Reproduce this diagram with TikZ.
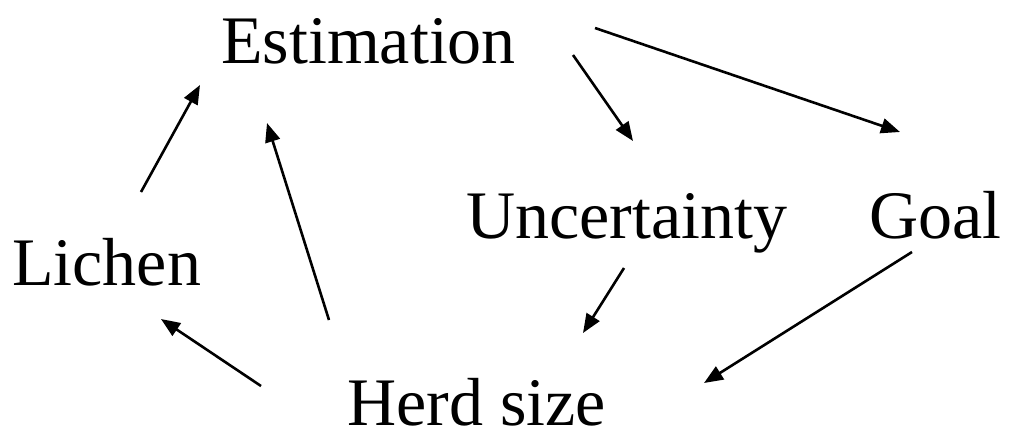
\documentclass[tikz,border=0pt]{standalone}
\usepackage{fontspec}
\setmainfont{Liberation Serif}
\usetikzlibrary{arrows.meta}
\begin{document}
\begin{tikzpicture}[x=1pt,y=-1pt,
  lbl/.style={anchor=base west,inner sep=0pt,font=\fontsize{68}{80}\selectfont},
  link/.style={line width=2.6pt,-{Triangle[length=19pt,width=15pt]}}]
\useasboundingbox (0,0) rectangle (1011,442);
\node[lbl] (est) at (221,63) {Estimation};
\node[lbl] (lic) at (12,285) {Lichen};
\node[lbl] (unc) at (466,238) {Uncertainty};
\node[lbl] (goal) at (869,238) {Goal};
\node[lbl] (herd) at (347,425) {Herd size};
% connector end points
\coordinate (a1s) at (141,192); \coordinate (a1e) at (200,85);
\coordinate (a2s) at (329,320); \coordinate (a2e) at (267,123);
\coordinate (a3s) at (573,55);  \coordinate (a3e) at (633,141);
\coordinate (a4s) at (595,28);  \coordinate (a4e) at (900,132);
\coordinate (a5s) at (624,268); \coordinate (a5e) at (583,333);
\coordinate (a6s) at (912,252); \coordinate (a6e) at (704,383);
\coordinate (a7s) at (261,386); \coordinate (a7e) at (161,319);
\draw[link] (a1s) -- (a1e);
\draw[link] (a2s) -- (a2e);
\draw[link] (a3s) -- (a3e);
\draw[link] (a4s) -- (a4e);
\draw[link] (a5s) -- (a5e);
\draw[link] (a6s) -- (a6e);
\draw[link] (a7s) -- (a7e);
\end{tikzpicture}
\end{document}
